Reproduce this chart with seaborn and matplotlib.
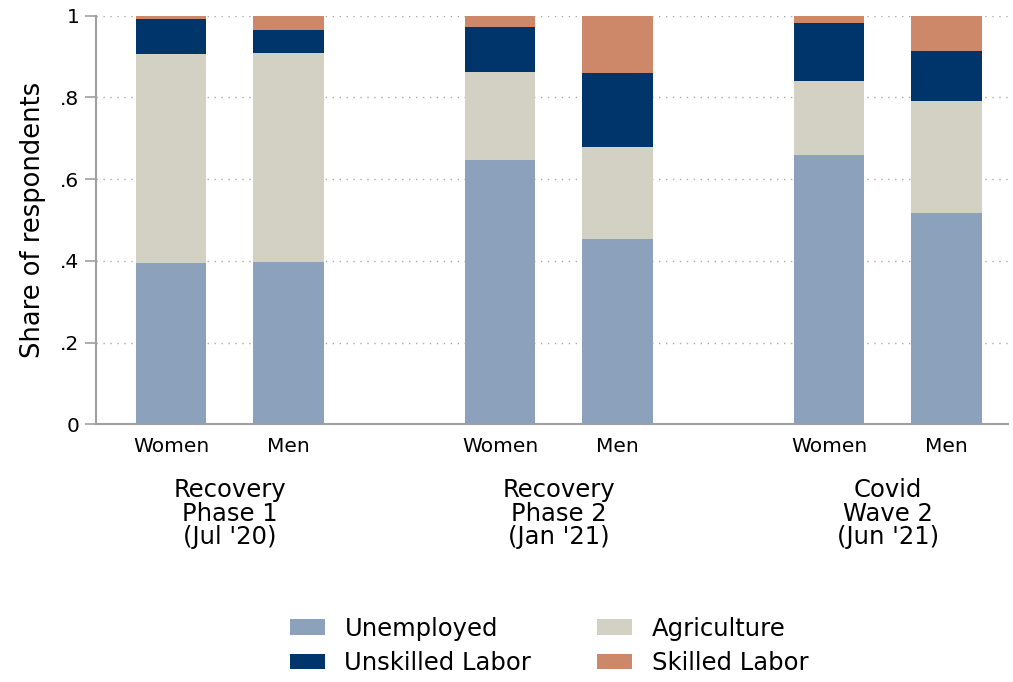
import pandas as pd
import matplotlib
matplotlib.use("Agg")
import matplotlib.pyplot as plt
import matplotlib.transforms as mtransforms
from matplotlib.patches import Patch
import seaborn as sns

# ===============================
# Data
# ===============================
groups = ["Recovery\nPhase 1\n(Jul '20)", "Recovery\nPhase 2\n(Jan '21)", "Covid\nWave 2\n(Jun '21)"]
sexes = ["Women", "Men"]
positions = [0, 1, 2.8, 3.8, 5.6, 6.6]
group_centers = [0.5, 3.3, 6.1]

unemployed = [0.395, 0.397, 0.647, 0.453, 0.659, 0.517]
agriculture = [0.512, 0.512, 0.216, 0.226, 0.182, 0.275]
unskilled = [0.086, 0.057, 0.110, 0.181, 0.142, 0.122]
skilled = [0.007, 0.034, 0.027, 0.140, 0.017, 0.086]

categories = ["Unemployed", "Agriculture", "Unskilled Labor", "Skilled Labor"]
colors = ["#8ca1bb", "#d3d0c4", "#00356b", "#cd886a"]

df = pd.DataFrame({
    "pos": positions,
    "Unemployed": unemployed,
    "Agriculture": agriculture,
    "Unskilled Labor": unskilled,
    "Skilled Labor": skilled,
})
# cumulative tops for stacking
cum = df[categories].cumsum(axis=1)
cum["pos"] = df["pos"]

sns.set_theme(style="white")
plt.rcParams["font.family"] = ["DejaVu Sans"]
plt.rcParams["text.color"] = "black"
plt.rcParams["axes.labelcolor"] = "black"
plt.rcParams["xtick.labelcolor"] = "black"
plt.rcParams["ytick.labelcolor"] = "black"

fig = plt.figure(figsize=(10.13, 6.82), dpi=100)
ax = fig.add_axes([0.0948, 0.378, 0.9, 0.599])

# draw from top layer down so each overlays the one above
for cat, col in reversed(list(zip(categories, colors))):
    sns.barplot(data=cum, x="pos", y=cat, native_scale=True, color=col,
                width=0.6, saturation=1, ax=ax, linewidth=0, zorder=3)

ax.set_ylim(0, 1)
ax.set_xlim(-0.64, 7.12)
ax.set_yticks([0, 0.2, 0.4, 0.6, 0.8, 1.0])
ax.set_yticklabels(["0", ".2", ".4", ".6", ".8", "1"], fontsize=14.5)
ax.yaxis.grid(True, linestyle=(0, (1, 4)), color="#aaaaaa", linewidth=1)
ax.set_axisbelow(True)

ax.set_xticks(positions)
ax.set_xticklabels(sexes * 3, fontsize=14.5)
ax.tick_params(axis="x", length=0, pad=9)
ax.tick_params(axis="y", length=8, width=1.2, color="#a0a0a0", left=True, pad=4)

ax.set_xlabel("")
ax.set_ylabel("Share of respondents", fontsize=18.5, labelpad=10)

for side in ["top", "right"]:
    ax.spines[side].set_visible(False)
for side in ["left", "bottom"]:
    ax.spines[side].set_color("#a0a0a0")
    ax.spines[side].set_linewidth(1.5)

trans = mtransforms.blended_transform_factory(ax.transData, ax.transAxes)
for gx, label in zip(group_centers, groups):
    ax.text(gx, -0.132, label, transform=trans, ha="center", va="top",
            fontsize=17.5, linespacing=0.98)

# legend fills column-wise, so order to read row-wise like the reference
order = [0, 2, 1, 3]
handles = [Patch(facecolor=colors[i], edgecolor="none") for i in order]
labels = [categories[i] for i in order]
fig.legend(handles, labels, loc="center", bbox_to_anchor=(0.542, 0.053),
           ncol=2, frameon=False, fontsize=17.5, handlelength=1.44,
           handleheight=0.62, columnspacing=2.7, labelspacing=0.43,
           handletextpad=0.82)

fig.savefig("out.png", dpi=100)
